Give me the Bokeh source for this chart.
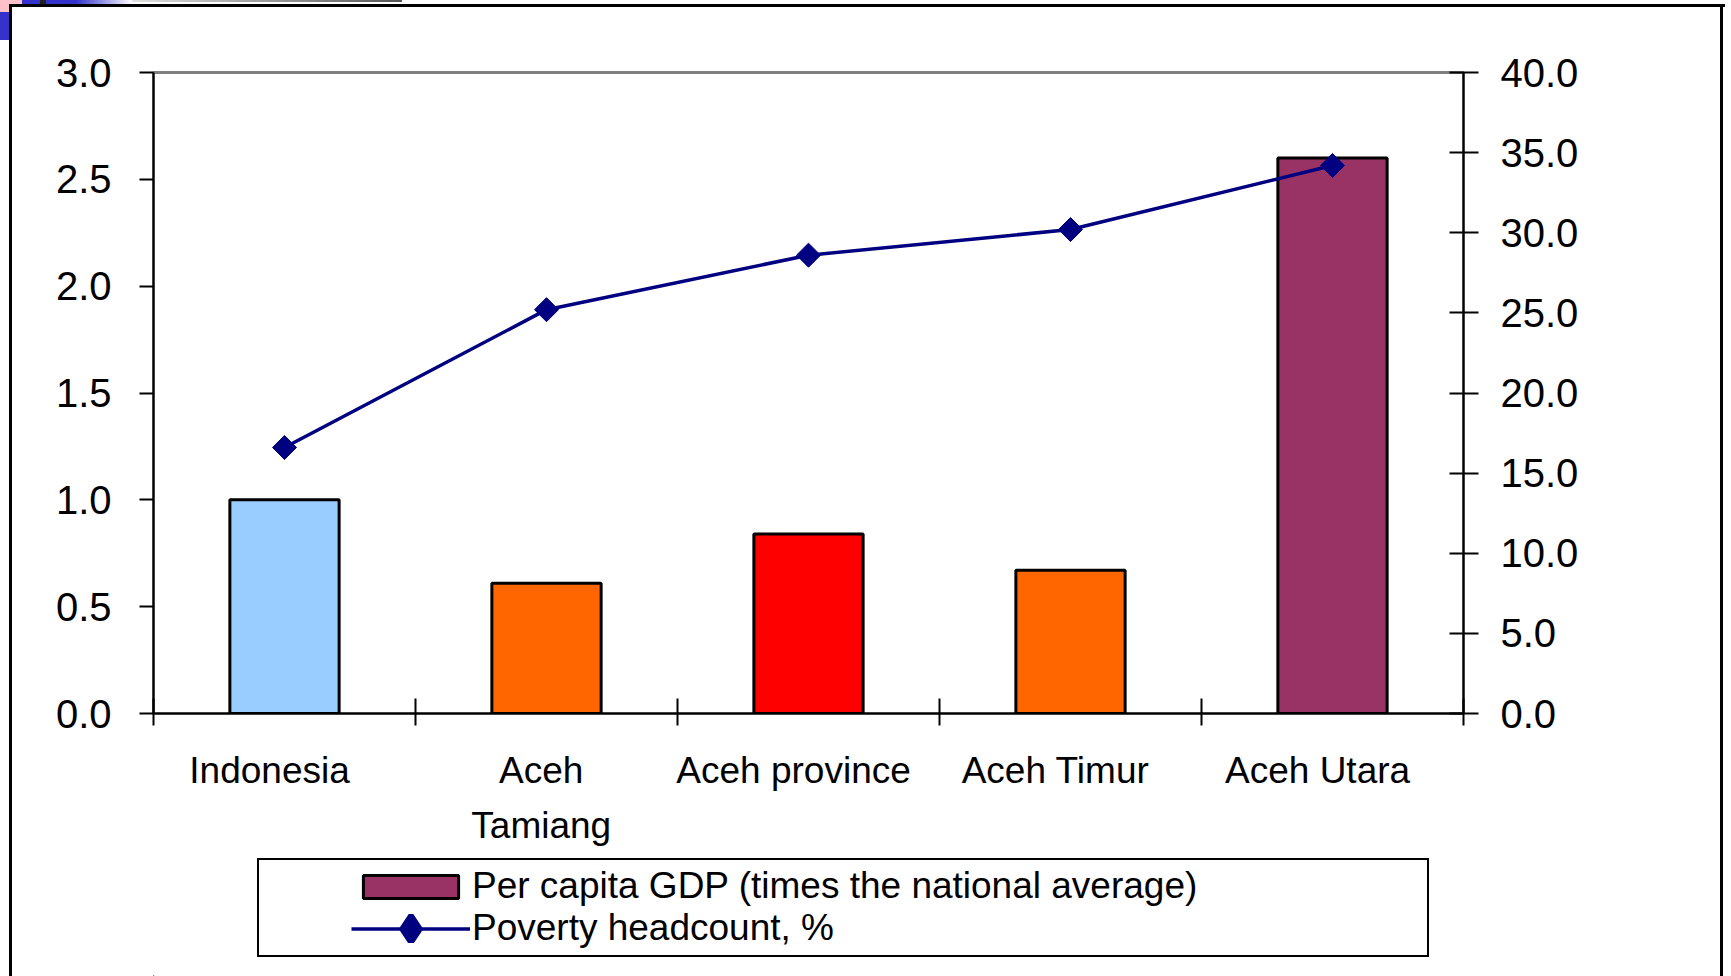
from bokeh.plotting import figure
from bokeh.layouts import column
from bokeh.models import (Range1d, LinearAxis, FixedTicker, Legend, LegendItem,
                          ColumnDataSource, NumeralTickFormatter)
from bokeh.embed import file_html
from bokeh.resources import INLINE

# ---- data ----
categories = ["Indonesia", "Aceh\nTamiang", "Aceh province", "Aceh Timur", "Aceh Utara"]
gdp_ratio = [1.0, 0.61, 0.84, 0.67, 2.60]          # Per capita GDP (times national average)
poverty = [16.6, 25.2, 28.6, 30.2, 34.2]           # Poverty headcount, %
bar_colors = ["#99CCFF", "#FF6600", "#FF0000", "#FF6600", "#993366"]
left_ticks = [0.0, 0.5, 1.0, 1.5, 2.0, 2.5, 3.0]
right_ticks = [0, 5, 10, 15, 20, 25, 30, 35, 40]
series_labels = ["Per capita GDP (times the national average)", "Poverty headcount, %"]

FONT = "Liberation Sans"
W, H = 1731, 976
H_MAIN = 856
NAVY = "#000080"
GDP_LEGEND_COLOR = bar_colors[-1]

xs = [i + 0.5 for i in range(len(categories))]
label_shift = [-0.057, -0.02, -0.057, -0.057, -0.057]
label_pos = [round(x + s, 3) for x, s in zip(xs, label_shift)]

# slide decoration (page frame, legend box, corner ornament) drawn as CSS backgrounds
layers = []
def css_rect(x, y, w, h, color):
    layers.append((f"linear-gradient({color},{color})", f"{x}px {y}px", f"{w}px {h}px"))
def css_grad(x, y, w, h, c0, c1):
    layers.append((f"linear-gradient(to right,{c0},{c1})", f"{x}px {y}px", f"{w}px {h}px"))

css_rect(9, 4, 3, 1000, "#000")        # outer frame left
css_rect(9, 4, 1716, 3, "#000")        # outer frame top
css_rect(1720, 4, 3, 1000, "#000")     # outer frame right
css_rect(257, 858, 1172, 2, "#000")    # legend box
css_rect(257, 955, 1172, 2, "#000")
css_rect(257, 858, 2, 99, "#000")
css_rect(1427, 858, 2, 99, "#000")
css_rect(0, 0, 22, 4, "#FFC0C8")       # corner ornament
css_rect(0, 4, 9, 8, "#FFC0C8")
css_rect(0, 12, 9, 28, "#3333CC")
css_rect(22, 0, 18, 4, "#3333CC")
css_rect(40, 0, 6, 4, "#222222")
css_rect(46, 0, 30, 4, "#3333CC")
css_grad(76, 0, 56, 4, "#3333CC", "#FFFFFF")
css_grad(132, 0, 270, 2, "#E0E0E0", "#555555")

page_styles = {
    "background-color": "white",
    "background-image": ",".join(l[0] for l in layers),
    "background-position": ",".join(l[1] for l in layers),
    "background-size": ",".join(l[2] for l in layers),
    "background-repeat": "no-repeat",
}

# ---------------- main chart ----------------
p = figure(width=W, height=H_MAIN, x_range=Range1d(0, len(categories)), y_range=Range1d(0, 3),
           x_axis_type=None, y_axis_type=None, output_backend="svg", toolbar_location=None,
           min_border_left=153, min_border_right=268, min_border_top=72,
           min_border_bottom=H_MAIN - 713)
p.outline_line_color = "#808080"
p.outline_line_width = 3
p.background_fill_color = "white"
p.border_fill_alpha = 0
p.extra_y_ranges = {"pov": Range1d(0, 40)}

src = ColumnDataSource(dict(x=xs, gdp=gdp_ratio, pov=poverty, color=bar_colors))

p.vbar(x="x", top="gdp", bottom=0, width=0.417, source=src,
       fill_color="color", line_color="black", line_width=3)
p.line(x="x", y="pov", source=src, y_range_name="pov", line_color=NAVY, line_width=3.5)
p.scatter(x="x", y="pov", source=src, y_range_name="pov", marker="square",
          angle=0.785398, size=17, fill_color=NAVY, line_color=NAVY)

def style(ax, size="40px"):
    ax.axis_line_color = "black"
    ax.axis_line_width = 2
    ax.major_tick_line_color = "black"
    ax.major_tick_line_width = 2
    ax.minor_tick_line_color = None
    ax.major_label_text_font = FONT
    ax.major_label_text_font_size = size
    ax.major_label_text_color = "black"

ax_l = LinearAxis(ticker=FixedTicker(ticks=left_ticks), formatter=NumeralTickFormatter(format="0.0"))
style(ax_l)
ax_l.major_tick_out = 14
ax_l.major_tick_in = 0
ax_l.major_label_standoff = 28
p.add_layout(ax_l, "left")

ax_r = LinearAxis(y_range_name="pov", ticker=FixedTicker(ticks=right_ticks),
                  formatter=NumeralTickFormatter(format="0.0"))
style(ax_r)
ax_r.major_tick_out = 15
ax_r.major_tick_in = 14
ax_r.major_label_standoff = 22
p.add_layout(ax_r, "right")

ax_b = LinearAxis(ticker=FixedTicker(ticks=list(range(len(categories) + 1))))
style(ax_b, "0px")
ax_b.major_label_overrides = {i: "" for i in range(len(categories) + 1)}
ax_b.major_tick_out = 12
ax_b.major_tick_in = 15
ax_b.major_label_standoff = 0
p.add_layout(ax_b, "below")

ax_c = LinearAxis(ticker=FixedTicker(ticks=label_pos))
style(ax_c, "37px")
ax_c.axis_line_color = None
ax_c.major_tick_line_color = None
ax_c.major_tick_out = 0
ax_c.major_tick_in = 0
ax_c.major_label_standoff = 24
ax_c.major_label_text_line_height = 1.35
ax_c.major_label_overrides = {pos: name for pos, name in zip(label_pos, categories)}
p.add_layout(ax_c, "below")

# ---------------- legend strip ----------------
pl = figure(width=W, height=H - H_MAIN, x_range=Range1d(0, 1), y_range=Range1d(0, 1),
            x_axis_type=None, y_axis_type=None, output_backend="svg", toolbar_location=None,
            min_border_left=0, min_border_right=0, min_border_top=0, min_border_bottom=0)
pl.outline_line_color = None
pl.background_fill_alpha = 0
pl.border_fill_alpha = 0
# legend swatch renderers: their single point lies far outside the strip's ranges
off = ColumnDataSource(dict(x=[-50.0], y=[-50.0]))
lg_bar = pl.vbar(x="x", top="y", bottom="y", width=1, source=off, fill_color=GDP_LEGEND_COLOR,
                 line_color="black", line_width=3)
lg_line = pl.line(x="x", y="y", source=off, line_color=NAVY, line_width=3.5)
lg_mark = pl.scatter(x="x", y="y", source=off, marker="diamond", size=12,
                     fill_color=NAVY, line_color=NAVY, line_width=14, line_join="miter")

legend = Legend(items=[LegendItem(label=series_labels[0], renderers=[lg_bar], index=0),
                       LegendItem(label=series_labels[1], renderers=[lg_line, lg_mark], index=0)],
                location=(198, 27), padding=0, margin=0, spacing=0,
                glyph_width=119, glyph_height=29, label_standoff=2,
                label_text_font=FONT, label_text_font_size="37px", label_text_color="black",
                border_line_alpha=0, background_fill_alpha=0)
pl.add_layout(legend)

layout = column(p, pl, spacing=0, styles=page_styles)

open("out.html", "w").write(file_html(layout, INLINE))
